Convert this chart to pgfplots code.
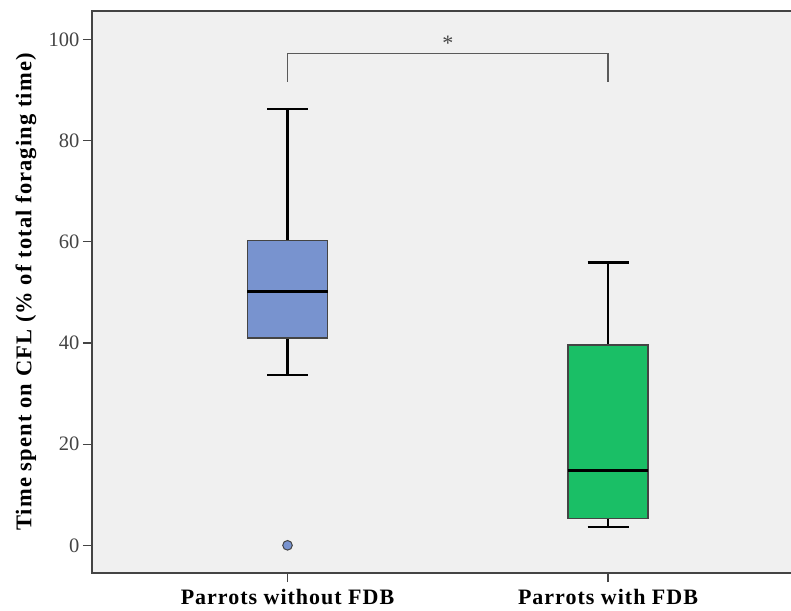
\documentclass[border=0pt]{standalone}
\usepackage{pgfplots}
\pgfplotsset{compat=1.18}
\usepgfplotslibrary{statistics}
\usepackage{fontspec}
\setmainfont{Liberation Serif}
\definecolor{bg}{HTML}{F0F0F0}
\definecolor{boxblue}{HTML}{7893CF}
\definecolor{boxgreen}{HTML}{1ABF66}
\definecolor{axgray}{HTML}{444444}
\definecolor{brgray}{HTML}{5A5A5A}
\begin{document}
\begin{tikzpicture}
\useasboundingbox (0,0) rectangle (791pt,610pt);
\begin{axis}[
  at={(92pt,37pt)}, anchor=south west,
  width=700pt, height=562pt, scale only axis,
  xmin=0.39, xmax=2.574, ymin=-5.47, ymax=105.6,
  axis background/.style={fill=bg},
  axis line style={axgray, line width=1.5pt},
  xtick={1,2}, xticklabels={Parrots without FDB, Parrots with FDB},
  ytick={0,20,40,60,80,100},
  xtick pos=left, ytick pos=left,
  tick align=outside, major tick length=9pt,
  tick style={axgray, line width=1.2pt},
  /pgf/number format/assume math mode=true,
  yticklabel style={font=\fontsize{20.5}{24}\selectfont, text=axgray},
  xticklabel style={font=\fontsize{22}{26}\selectfont\bfseries\addfontfeature{LetterSpace=4.5}, text=black, yshift=-4pt},
  ylabel={Time spent on CFL (\% of total foraging time)},
  ylabel style={font=\fontsize{22.5}{26}\selectfont\bfseries\addfontfeature{LetterSpace=5}, at={(axis description cs:-0.0943,0.5)}, anchor=center},
  boxplot/draw direction=y,
  clip=false,
]
\addplot[boxplot prepared={draw position=1, lower whisker=33.7, lower quartile=41.0, median=50.1, upper quartile=60.3, upper whisker=86.2, box extend=0.25, whisker extend=0.128,
  every box/.style={draw=axgray, fill=boxblue, line width=1.3pt},
  every whisker/.style={black, line width=2.5pt},
  every median/.style={black, line width=3pt}},
  mark=*, mark size=4.8pt, mark options={fill=boxblue, draw=axgray, line width=1pt}]
  table[row sep=\\, y index=0] {data\\ 0\\};
\addplot[boxplot prepared={draw position=2, lower whisker=3.6, lower quartile=5.3, median=14.7, upper quartile=39.6, upper whisker=55.9, box extend=0.25, whisker extend=0.128,
  every box/.style={draw=axgray, fill=boxgreen, line width=1.3pt},
  every whisker/.style={black, line width=2.5pt},
  every median/.style={black, line width=3pt}}]
  coordinates {};
\addplot[brgray, line width=1.3pt] coordinates {(1,91.6) (1,97.25) (2,97.25) (2,91.6)};
\node[font=\fontsize{22}{26}\selectfont, text=axgray, anchor=base] at (axis cs:1.5,97.8) {*};
\end{axis}
\end{tikzpicture}
\end{document}
